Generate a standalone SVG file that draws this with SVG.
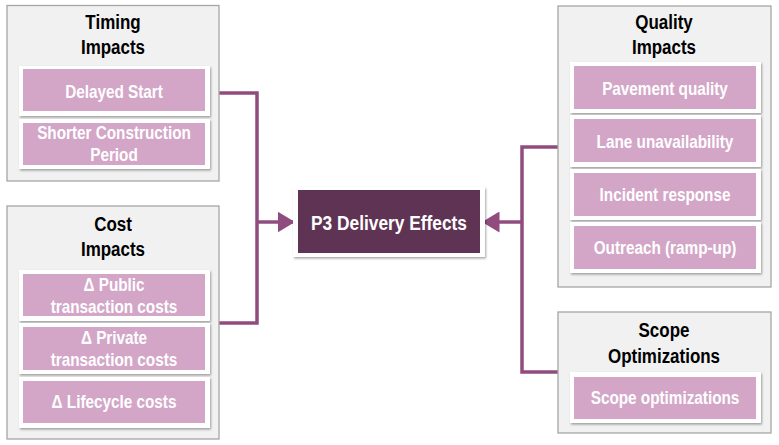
<svg xmlns="http://www.w3.org/2000/svg" width="779" height="445" viewBox="0 0 779 445">
<defs>
<style>
.grp{fill:#f1f1f1;stroke:#a6a6a6;stroke-width:1.3}
.card{fill:#ffffff;filter:url(#sh)}
.pink{fill:#d3a6c8}
.ttl{font-family:"Liberation Sans",Arial,sans-serif;font-weight:bold;font-size:19.5px;fill:#000;text-anchor:middle}
.lbl{font-family:"Liberation Sans",Arial,sans-serif;font-weight:bold;font-size:18px;fill:#ffffff;text-anchor:middle}
.big{font-family:"Liberation Sans",Arial,sans-serif;font-weight:bold;font-size:21px;fill:#ffffff;text-anchor:middle}
.conn{fill:none;stroke:#914c7f;stroke-width:3.5}
</style>
<filter id="sh" x="-10%" y="-20%" width="120%" height="150%">
<feDropShadow dx="1" dy="1.5" stdDeviation="1.2" flood-color="#000" flood-opacity="0.35"/>
</filter>
<marker id="ah" markerWidth="6" markerHeight="6" refX="5" refY="3" orient="auto" markerUnits="strokeWidth">
<path d="M0,0 L5,3 L0,6 Z" fill="#914c7f"/>
</marker>
</defs>
<rect width="779" height="445" fill="#ffffff"/>

<g id="connectors">
<polyline class="conn" points="219,93 257,93 257,323 219,323"/>
<line class="conn" x1="257" y1="222" x2="295" y2="222" marker-end="url(#ah)"/>
<polyline class="conn" points="558,147 522,147 522,372 558,372"/>
<line class="conn" x1="522" y1="222" x2="482" y2="222" marker-end="url(#ah)"/>
</g>

<g id="timing">
<rect class="grp" x="7" y="5.5" width="212" height="175.5"/>
<text class="ttl" transform="translate(113,29) scale(0.87,1)">Timing</text>
<text class="ttl" transform="translate(113,54) scale(0.87,1)">Impacts</text>
<rect class="card" x="19" y="66" width="191" height="50"/>
<rect class="pink" x="23" y="69" width="182" height="42"/>
<text class="lbl" transform="translate(114,98) scale(0.85,1)">Delayed Start</text>
<rect class="card" x="19" y="119" width="191" height="50"/>
<rect class="pink" x="23" y="123" width="182" height="42"/>
<text class="lbl" transform="translate(114,139) scale(0.85,1)">Shorter Construction</text>
<text class="lbl" transform="translate(114,161) scale(0.85,1)">Period</text>
</g>

<g id="cost">
<rect class="grp" x="7" y="206" width="212" height="233"/>
<text class="ttl" transform="translate(113,231) scale(0.87,1)">Cost</text>
<text class="ttl" transform="translate(113,256) scale(0.87,1)">Impacts</text>
<rect class="card" x="19" y="270" width="191" height="51"/>
<rect class="pink" x="23" y="274" width="182" height="42"/>
<text class="lbl" transform="translate(114,291) scale(0.85,1)">Δ Public</text>
<text class="lbl" transform="translate(114,313) scale(0.85,1)">transaction costs</text>
<rect class="card" x="19" y="323" width="191" height="51"/>
<rect class="pink" x="23" y="327" width="182" height="43"/>
<text class="lbl" transform="translate(114,344) scale(0.85,1)">Δ Private</text>
<text class="lbl" transform="translate(114,366) scale(0.85,1)">transaction costs</text>
<rect class="card" x="19" y="377" width="191" height="51"/>
<rect class="pink" x="23" y="381" width="182" height="42"/>
<text class="lbl" transform="translate(114,408) scale(0.85,1)">Δ Lifecycle costs</text>
</g>

<g id="p3">
<rect class="card" x="293" y="187" width="192" height="70"/>
<rect x="298" y="190" width="182" height="63" fill="#5f3354"/>
<text class="big" transform="translate(389,230) scale(0.825,1)">P3 Delivery Effects</text>
</g>

<g id="quality">
<rect class="grp" x="558" y="6" width="213" height="281"/>
<text class="ttl" transform="translate(664,29) scale(0.87,1)">Quality</text>
<text class="ttl" transform="translate(664,54) scale(0.87,1)">Impacts</text>
<rect class="card" x="570" y="62" width="191" height="51"/>
<rect class="pink" x="574" y="66" width="182" height="43"/>
<text class="lbl" transform="translate(665,95) scale(0.85,1)">Pavement quality</text>
<rect class="card" x="570" y="115" width="191" height="52"/>
<rect class="pink" x="574" y="119" width="182" height="43"/>
<text class="lbl" transform="translate(665,148) scale(0.85,1)">Lane unavailability</text>
<rect class="card" x="570" y="169" width="191" height="51"/>
<rect class="pink" x="574" y="173" width="182" height="43"/>
<text class="lbl" transform="translate(665,201) scale(0.85,1)">Incident response</text>
<rect class="card" x="570" y="222" width="191" height="51"/>
<rect class="pink" x="574" y="226" width="182" height="43"/>
<text class="lbl" transform="translate(665,254) scale(0.85,1)">Outreach (ramp-up)</text>
</g>

<g id="scope">
<rect class="grp" x="558" y="312" width="213" height="121"/>
<text class="ttl" transform="translate(664,337) scale(0.87,1)">Scope</text>
<text class="ttl" transform="translate(664,363) scale(0.87,1)">Optimizations</text>
<rect class="card" x="570" y="372" width="191" height="51"/>
<rect class="pink" x="574" y="377" width="182" height="42"/>
<text class="lbl" transform="translate(665,404) scale(0.85,1)">Scope optimizations</text>
</g>
</svg>
